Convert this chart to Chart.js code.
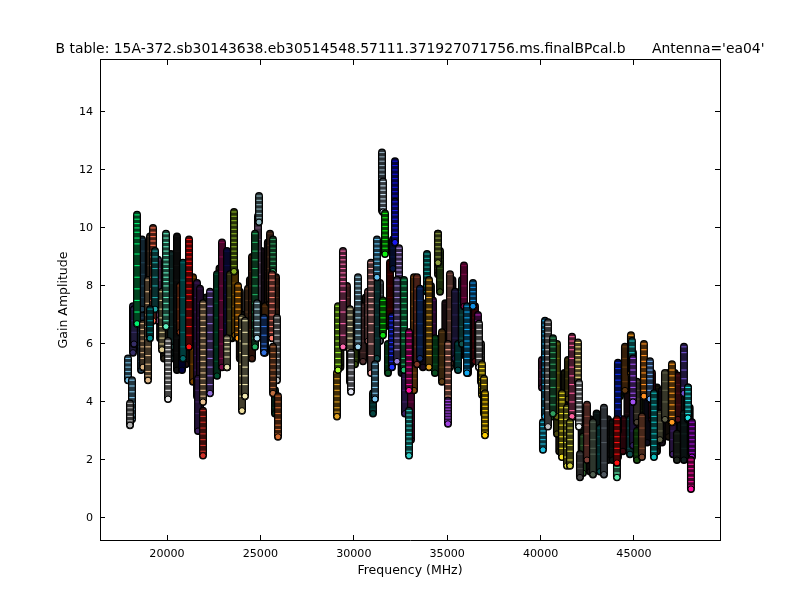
<!DOCTYPE html>
<html>
<head>
<meta charset="utf-8">
<title>B table</title>
<script src="https://cdn.jsdelivr.net/npm/chart.js@4"></script>
<style>
body { margin: 0; background: #fff; }
canvas { display: block; }
</style>
</head>
<body>
<canvas id="gainChart" width="800" height="600"></canvas>
<script>
const chartTitle = "B table: 15A-372.sb30143638.eb30514548.57111.371927071756.ms.finalBPcal.b      Antenna='ea04'";
const xTicks = [20000, 25000, 30000, 35000, 40000, 45000];
const yTicks = [0, 2, 4, 6, 8, 10, 12, 14];

// dark columns that fill the mass behind everything else
const backFreqs = [18500, 18850, 19630, 19840, 20370, 21000, 21500, 22100, 22490, 22810, 23080, 23480, 23900, 24100, 24440, 25050, 25400,
  29280, 29530, 29950, 30360, 30640, 32560, 33700, 34130, 34900, 35280, 35680, 36230,
  40540, 41000, 41280, 41800, 42200, 42650, 43000, 43600, 43850, 44650, 45300, 45700, 46230, 46500, 46850, 47180, 47500, 47980];
const backGains = [
  [8.6,7.6,6.6,5.9], [8.0,7.0,6.0,5.3], [8.6,7.6,6.8,6.2], [7.6,6.9,6.1,5.5], [8.0,7.0,6.2,5.5], [8.4,7.4,6.4,5.3], [7.8,6.8,5.8,4.8], [7.6,6.8,5.8,4.9], [7.7,6.8,5.8,5.0], [8.6,7.6,6.4,5.4], [8.9,7.8,6.6,5.4], [9.0,8.0,7.0,6.2], [7.8,7.0,6.2,5.5], [7.0,6.2,5.2,4.4], [8.2,7.4,6.6,6.0], [9.2,8.2,7.2,6.3], [9.5,8.5,7.5,6.4],
  [6.8,6.0,5.2], [7.6,6.8,5.9], [7.0,6.2,5.4], [7.4,6.6,5.7], [7.6,6.7,5.6], [8.0,7.0,6.0,5.0], [7.4,6.6,5.8,5.2], [8.0,7.2,6.4,5.4], [7.4,6.5,5.6,4.9], [8.2,7.4,6.6,5.6], [7.8,7.0,6.2,5.6], [7.2,6.5,5.8,5.3],
  [6.0,5.2,4.4,3.6], [4.0,3.4,2.8,2.3], [5.0,4.2,3.4,2.5], [5.2,4.6,4.0,3.5], [3.7,3.1,2.5,1.7], [3.4,2.8,2.2,1.6], [3.6,3.0,2.4,1.8], [3.4,2.8,2.2,2.0], [3.3,2.8,2.4,2.0], [5.4,4.5,3.6,2.5], [4.5,3.7,2.9,2.1], [5.0,4.2,3.4,2.6], [4.5,3.7,3.0,2.3], [4.4,3.8,3.2,2.6], [5.0,4.3,3.6,2.8], [5.0,4.3,3.6,2.7], [4.9,4.2,3.4,2.4], [3.8,3.3,2.8,2.3]
];
const backColors = ['#204050', '#604830', '#503040', '#504830', '#203838', '#402020', '#203040', '#304830', '#302040', '#403020', '#182048', '#404818', '#503018', '#383838', '#503020', '#301830', '#402818',
  '#404818', '#502038', '#303030', '#203828', '#483020', '#183040', '#301840', '#204040', '#402030', '#301838', '#183838', '#381820',
  '#183040', '#484018', '#383818', '#201830', '#183020', '#302828', '#183838', '#303030', '#183028', '#401820', '#283818', '#181838', '#383018', '#302038', '#382818', '#281830', '#203030', '#102020'];

// 18-26 GHz
const band1Freqs = [18180, 18233, 18610, 18662, 19090, 19518, 20214, 20535, 20696, 20803, 20856, 21392, 21606, 21767, 21660, 22677, 22944, 23212, 23372, 23640, 24336, 24550, 24871, 25246, 25514, 25835, 25781,
  17912, 18126, 18019, 18394, 18715, 18983, 19251, 19358, 19090, 19732, 19946, 20054, 21178, 21927, 21927, 22302, 23212, 23587, 23801, 24015, 24175, 24711, 24925, 24818, 25193, 25674, 25621, 25888, 25674, 25942];
const band1Gains = [
  [7.3,6.9,6.5,6.1,5.7], [7.2,6.8,6.4,6.0], [8.4,7.9,7.4,6.9,6.4,5.9,5.4,5.1], [9.6,9.2,8.8,8.4,8.0,7.6,7.2], [9.7,9.2,8.7,8.2,7.7,7.2,6.7,6.3], [8.9,8.6,8.2,7.8,7.4,7.0,6.8], [9.1,8.6,8.1,7.6,7.1,6.6,6.1,5.9], [9.7,9.2,8.7,8.2,7.7,7.2,6.7,6.2,5.7,5.1], [8.0,7.6,7.2,6.8,6.4], [6.1,5.8,5.5,5.1], [8.8,8.2,7.6,7.0,6.4,5.9,5.5], [8.3,7.8,7.3,6.8,6.3,5.8,5.3,4.7], [8.1,7.6,7.1,6.6,6.1,5.6,5.1,4.6,4.2], [7.9,7.4,6.9,6.4,5.9,5.4,4.9,4.4,4.0,3.5,3.0], [4.8,4.4,4.0,3.6,3.0],
  [8.4,7.9,7.4,6.9,6.4,5.9,5.4,4.9], [9.5,9.0,8.5,8.0,7.5,7.0,6.5,6.0,5.5,5.2], [9.2,8.7,8.2,7.7,7.2,6.7,6.2,5.7,5.2], [8.4,8.0,7.6,7.2,6.8,6.2], [8.5,8.1,7.7,7.3,6.9,6.3], [7.9,7.5,7.1,6.7,6.3,5.9], [9.0,8.5,8.0,7.5,7.0,6.5,6.0,5.5], [10.4,10.0,9.6,9.2,8.8,8.4,8.0,7.4], [7.3,6.9,6.5,6.1,5.7], [9.8,9.4,9.0,8.6,8.2,7.8,7.4], [8.3,8.0,7.6,7.2,6.9], [4.4,4.1,3.8,3.6],
  [5.5,5.35,5.2,5.05,4.9,4.75], [4.75,4.55,4.35,4.15,3.95,3.75,3.55,3.4], [3.95,3.8,3.65,3.5,3.35,3.2], [10.45,10.3,10.15,10.0,9.85,9.65,9.45,9.1,8.7,8.3,7.9,7.5,7.1,6.7], [6.7,6.5,6.3,6.1,5.9,5.7,5.5,5.2], [8.2,7.8,7.4,7.0,6.6,6.2,5.9,5.6,5.3,5.05,4.9,4.75], [10.0,9.85,9.7,9.55,9.4,9.2,9.0,8.7,8.3,7.9,7.5,7.1,6.8], [9.2,9.0,8.8,8.6,8.3,8.0,7.6,7.2], [7.2,7.0,6.8,6.6,6.4,6.2], [7.8,7.5,7.2,6.9,6.6,6.4,6.2,6.0,5.8], [9.8,9.65,9.5,9.35,9.2,9.05,8.9,8.75,8.6,8.45,8.3,8.15,8.0,7.8,7.6,7.4,7.2,7.0,6.8,6.6], [6.1,5.95,5.8,5.65,5.5,5.35,5.2,5.05,4.9,4.75,4.6,4.4,4.1], [9.6,9.45,9.3,9.15,9.0,8.85,8.7,8.5,8.3,8.1,7.9,7.7,7.5,7.2,6.9,6.6,6.3,5.9],
  [7.4,7.2,7.0,6.8,6.6,6.4,6.2,6.0,5.8,5.6,5.4,5.2,5.0,4.8,4.6,4.4,4.2,4.0], [3.7,3.5,3.3,3.1,2.9,2.7,2.5,2.3,2.15], [7.8,7.6,7.3,7.0,6.7,6.4,6.1,5.8,5.5,5.2,4.9,4.6,4.3], [6.2,6.05,5.9,5.75,5.55,5.2], [10.55,10.4,10.25,10.1,9.95,9.8,9.65,9.5,9.35,9.2,9.05,8.9,8.7,8.5], [8.0,7.8,7.6,7.4,7.2,7.0,6.8,6.6,6.4,6.2], [6.9,6.5,6.1,5.7,5.3,4.9,4.6,4.2,3.7], [6.8,6.4,6.0,5.6,5.2,4.9,4.6,4.2], [9.8,9.5,9.2,8.9,8.6,8.3,8.0,7.7,7.4,7.1,6.8,6.5,6.2,5.9], [11.1,10.95,10.8,10.65,10.5,10.35,10.2], [7.4,7.2,7.0,6.8,6.6,6.4,6.2], [6.9,6.6,6.3,6.0,5.85,5.7], [9.6,9.45,9.3,9.15,9.0,8.85,8.7,8.5], [8.4,8.2,8.0,7.8,7.6,7.4,7.2,7.0,6.8,6.6,6.4,6.2], [6.9,6.7,6.5,6.3,6.1,5.9,5.7,5.5,5.3,5.1,4.9,4.75], [5.9,5.7,5.5,5.3,5.1,4.9,4.7,4.5,4.3], [4.2,4.0,3.8,3.6,3.4,3.2,3.05,2.9,2.8]
];
const band1Colors = ['#6a5acd', '#6a5acd', '#4682b4', '#3f7fa8', '#8a6a50', '#da70d6', '#2f6f6a', '#222222', '#ff6a30', '#000080', '#00d5d5', '#ff8c00', '#7a30b0', '#6a2090', '#7b3fc0',
  '#00a060', '#ff1493', '#1a1a90', '#a0a040', '#ffa500', '#a06a40', '#8a3a20', '#d8a0e0', '#c06a20', '#a06040', '#8a4a30', '#0a5a40',
  '#74bde0', '#80c4e8', '#b8b8b8', '#00f070', '#d8b080', '#e0b888', '#ff7050', '#20a8a8', '#008c8c', '#d8c890', '#60f0c0', '#f0f0f0', '#ff1010', '#e8c090', '#d03028', '#9370db', '#e8e0b0', '#88b020', '#ff9a10', '#f0e0a0', '#f0e8b0', '#20b060', '#90b8c0', '#b0e0f0', '#3070e0', '#30a060', '#ff8070', '#c0c0c0', '#c07040', '#d06a30'];

// 29-37 GHz
const band2Freqs = [29635, 30064, 30492, 30760, 31027, 31402, 31241, 31830, 31937, 32098, 32740, 33061, 33222, 33383, 33543, 34239, 34346, 34507, 34614, 35149, 35417, 35578, 35792, 35899, 36487, 36113, 36808, 34721,
  29100, 29154, 29421, 29796, 29850, 30224, 30920, 31134, 31241, 31509, 31562, 31670, 31562, 32205, 32205, 32044, 32419, 32312, 32687, 32954, 32954, 33918, 34025, 34507, 35042, 35042, 36059, 36380, 36648, 36701, 36862, 36969, 37022];
const band2Gains = [
  [8.0,7.6,7.2,6.8,6.4,6.0], [6.5,6.2,5.9,5.5,5.3], [7.3,6.9,6.5,6.1,5.7,5.4], [7.8,7.4,7.0,6.6,6.1], [4.3,4.1,3.9,3.75,3.6], [8.1,7.7,7.3,6.9,6.5,6.1], [8.2,7.8,7.4,7.0,6.6,6.2,5.5], [6.0,5.6,5.3,5.0], [8.8,8.4,8.0,7.6,7.2,6.8,6.6], [9.6,9.3,9.0,8.6], [5.2,4.8,4.4,4.0,3.6], [6.4,5.5,4.8,4.0,3.3,2.7], [8.3,7.8,7.3,6.8,6.3,5.8,5.3,5.0,4.8,4.4], [8.3,7.9,7.5,7.1,6.7,6.3,5.9,5.3], [7.9,7.5,7.1,6.7,6.3,5.9,5.5], [7.5,7.1,6.7,6.3,5.9], [6.2,5.9,5.6,5.3,5.0], [9.8,9.4,9.0,8.6,8.4], [9.2,8.9,8.6,8.2,7.8], [8.4,8.0,7.6,7.2,6.8,6.4,6.0,5.6,5.2], [7.8,7.4,7.0,6.6,6.2,5.8,5.5], [6.0,5.7,5.4,5.1], [8.2,7.8,7.4,7.0,6.6,6.2,6.0], [8.7,8.4,8.0,7.6,7.3], [7.3,6.9,6.5,6.1,5.8,5.4], [5.4,5.2,5.0], [6.0,5.6,5.3,4.9,4.7], [6.4,6.0,5.6,5.2,4.7],
  [5.0,4.8,4.6,4.4,4.2,4.0,3.8,3.65,3.5], [7.3,7.1,6.9,6.7,6.5,6.3,6.1,5.9,5.7,5.5,5.3,5.1], [9.2,9.05,8.9,8.75,8.6,8.45,8.3,8.15,8.0,7.8,7.5,7.1,6.7,6.3,5.9], [7.2,7.0,6.8,6.6,6.4,6.2,6.0,5.8,5.6,5.4,5.2,5.0,4.7], [5.7,5.5,5.3,5.1,4.9,4.7,4.5,4.35], [8.3,8.15,8.0,7.85,7.7,7.5,7.3,7.1,6.9,6.7,6.5,6.3,6.1,5.9], [8.8,8.6,8.4,8.2,8.0,7.8,7.6,7.4,7.2,7.0,6.7,6.4,6.0,5.6,5.0], [5.3,5.1,4.9,4.7,4.5,4.3,4.1], [9.6,9.45,9.3,9.15,9.0,8.85,8.7,8.5,8.3], [12.6,12.45,12.3,12.15,12.0,11.85,11.7,11.55,11.4,11.25,11.1,10.95,10.8,10.6], [11.6,11.45,11.3,11.15,11.0,10.85,10.7,10.55], [10.5,10.35,10.2,10.05,9.9,9.75,9.6,9.45,9.3,9.1], [7.5,7.3,7.1,6.9,6.7,6.5,6.3], [12.3,12.15,12.0,11.85,11.7,11.55,11.4,11.25,11.1,10.95,10.8,10.7], [10.9,10.75,10.6,10.45,10.3,10.15,10.0,9.85,9.7,9.5], [6.95,6.8,6.65,6.5,6.35,6.2,6.05,5.9,5.75,5.6,5.4,5.2], [9.3,9.15,9.0,8.85,8.7,8.55,8.4,8.2], [8.2,8.0,7.8,7.6,7.4,7.2,7.0,6.8,6.6,6.4,6.2,6.0,5.8,5.4], [8.2,8.0,7.8,7.6,7.4,7.2,7.0,6.8,6.6,6.4,6.2,6.0,5.5,5.3,5.1], [6.4,6.2,6.0,5.8,5.6,5.4,5.2,5.0,4.8,4.6,4.4], [3.7,3.55,3.4,3.25,3.1,2.95,2.8,2.65,2.5,2.3,2.15], [9.1,8.95,8.8,8.65,8.5,8.35,8.2,8.0,7.8], [8.2,8.0,7.8,7.6,7.4,7.2,7.0,6.8,6.6,6.4,6.2,6.0,5.8,5.6,5.2], [9.8,9.65,9.5,9.35,9.2,9.0,8.8], [6.0,5.8,5.6,5.4,5.2,5.0,4.8,4.6,4.4,4.2,4.0], [4.05,3.95,3.85,3.75,3.65,3.55,3.45,3.35,3.25], [7.3,7.1,6.9,6.7,6.5,6.3,6.1,5.9,5.7,5.5,5.3,5.1,5.0], [8.1,7.95,7.8,7.65,7.5,7.3], [7.0,6.8,6.6,6.4,6.2,6.0,5.8,5.6], [6.7,6.5,6.3,6.1,5.9,5.7,5.5,5.2], [5.3,5.15,5.0,4.85,4.7,4.5,4.25], [4.8,4.6,4.4,4.2,4.0,3.8,3.6], [4.3,4.15,4.0,3.85,3.7,3.55,3.4,3.25,3.1,2.95,2.85]
];
const band2Colors = ['#c06060', '#6a9a20', '#a06060', '#ff9fa0', '#0a8a80', '#b0c0d0', '#209090', '#10a040', '#8b0000', '#0a2a8a', '#7b3fd0', '#e01090', '#ff8c20', '#ff7050', '#2060e0', '#8a1fa0', '#10a040', '#8a8a30', '#60a030', '#ffa090', '#5040a0', '#00a0a0', '#20a8a0', '#ff1090', '#b01020', '#606060', '#909090', '#c08030',
  '#e0a020', '#a8ff30', '#ff6ab0', '#e8e0b0', '#e8eaf8', '#a0d8f0', '#ffb0b0', '#7cc8f0', '#60c0f0', '#90a8b8', '#c0d8e8', '#10f010', '#10e010', '#1010e0', '#1818f0', '#2030ff', '#b090e8', '#9880d8', '#20c070', '#ff10a0', '#30d0c8', '#10a8a0', '#e0a020', '#90a040', '#ffa890', '#a040e0', '#10a8f0', '#1090e8', '#b020b0', '#d8d8d8', '#ffe020', '#ffd820', '#ffd000'];

// 40-48 GHz
const band3Freqs = [40074, 40663, 40877, 41466, 41573, 42269, 42483, 42804, 43178, 43392, 44141, 44249, 44516, 44409, 44784, 44944, 45159, 45159, 45426, 45962, 46390, 46658, 47086, 47354, 47300, 47675, 42108, 40877, 47889,
  40127, 40234, 40395, 40663, 41144, 41412, 41680, 41573, 42001, 42054, 44088, 44141, 44088, 44837, 44891, 44944, 45533, 45855, 46069, 47033, 47675, 47889, 48103, 48050];
const band3Gains = [
  [5.45,5.1,4.8,4.5], [4.5,4.1,3.8,3.5], [4.3,4.0,3.7,3.4,2.9], [5.45,5.1,4.8,4.4,4.1], [3.3,3.0,2.7,2.4,2.0], [2.8,2.5,2.2,1.9,1.55], [3.9,3.5,3.2,2.9,2.5,2.0], [3.3,3.0,2.7,2.4,2.2,1.5], [3.1,2.8,2.5,2.2,1.6], [3.8,3.4,3.1,2.6,1.9,1.5], [3.4,3.0,2.6,2.3,2.1], [5.2,4.9,4.6,4.2], [5.9,5.5,5.2,4.7,4.4], [3.4,3.1,2.8,2.3], [3.4,3.1,2.8,2.4,2.2], [5.7,5.3,4.9,4.6,4.0,3.0,2.5], [4.7,4.4,4.1,3.6,3.6,3.3], [3.0,2.8,2.5,2.2,2.0], [3.5,3.1,2.8,2.4,2.1], [5.0,4.6,4.3,3.9,3.4], [3.6,3.3,3.0,2.7], [5.0,4.7,4.4,4.0,3.4], [3.3,3.0,2.7,2.2], [4.9,4.6,4.3,3.9,3.4], [2.9,2.6,2.2,2.0], [3.6,3.2,2.9,2.4,2.0], [2.2,1.9,1.7,1.4], [6.0,5.5,5.0,4.5,4.0,3.5], [4.5,4.0,3.7,3.4],
  [3.3,3.15,3.0,2.85,2.7,2.55,2.35], [6.8,6.65,6.5,6.35,6.2,6.0,5.8,5.6,5.4,5.2,5.0,4.8,4.6,4.4,4.1,3.8,3.5], [6.75,6.6,6.4,6.2,6.0,5.8,5.6,5.4,5.2,5.0,4.8,4.6,4.4,4.0,3.7,3.15], [6.2,6.05,5.9,5.7,5.5,5.3,5.1,4.8,4.5,4.2,3.9,3.6], [4.3,4.15,4.0,3.8,3.6,3.4,3.2,3.0,2.8,2.6,2.4,2.1], [3.8,3.6,3.4,3.2,3.0,2.8,2.6,2.4,2.1,1.8], [6.25,6.1,5.95,5.8,5.5,5.2,4.9,4.6,4.3,4.0,3.7,3.5], [3.3,3.1,2.9,2.7,2.5,2.3,2.0,1.8], [6.05,5.9,5.75,5.6,5.45,5.3,5.15,5.0,4.85,4.65], [4.65,4.5,4.35,4.2,4.05,3.9,3.75,3.6,3.45,3.3,3.15], [2.5,2.35,2.2,2.05,1.9,1.75,1.55,1.4], [5.35,5.15,4.95,4.75,4.55,4.35,4.15,3.95,3.75,3.5,3.3,3.0], [3.4,3.2,3.0,2.8,2.6,2.4,2.2,1.9], [6.3,6.15,6.0,5.85,5.7,5.4,5.0], [6.1,5.9,5.7,5.5,5.3,5.1], [5.5,5.3,5.1,4.9,4.7,4.5,4.3,4.15,4.0], [6.0,5.8,5.6,5.4,5.2,5.0,4.8,4.6,4.4,4.2], [5.4,5.25,5.1,4.95,4.8,4.6,4.4,4.1], [4.3,4.1,3.9,3.7,3.5,3.3,3.1,2.9,2.7,2.5,2.3,2.1], [5.3,5.1,4.9,4.7,4.5,4.3,4.1,3.9,3.7,3.5,3.3], [5.9,5.7,5.4,5.1,4.8,4.5,4.3], [4.5,4.35,4.2,4.05,3.9,3.75,3.6,3.45], [3.3,3.15,3.0,2.85,2.7,2.55,2.4,2.25,2.1], [2.0,1.85,1.7,1.55,1.4,1.25,1.1,1.0]
];
const band3Colors = ['#c04090', '#30b030', '#909020', '#908020', '#808060', '#60c060', '#ff8070', '#a0c0a0', '#10a0a0', '#a0b0c0', '#101080', '#208040', '#c07020', '#801020', '#20a0a0', '#6040c0', '#9a8a70', '#30a020', '#ff9060', '#8a1030', '#c0c090', '#c0c090', '#8040d0', '#a02030', '#405040', '#204040', '#909090', '#d8d020', '#303080',
  '#20c0e0', '#20b0f0', '#c0c0c0', '#30a060', '#f0e020', '#d8d840', '#ff60a0', '#d0d040', '#f8e080', '#f0f4f8', '#60f0b0', '#1030f0', '#ff1010', '#ffa020', '#20c0c0', '#a050f0', '#ff9020', '#70a8f0', '#10c0c0', '#ff9a20', '#7050d0', '#20e0e0', '#a010d0', '#ff10a0'];

function shade(hex, k) {
  const n = parseInt(hex.slice(1), 16);
  return 'rgb(' + Math.round((n >> 16 & 255) * k) + ',' + Math.round((n >> 8 & 255) * k) + ',' + Math.round((n & 255) * k) + ')';
}

// the first dimCount columns sit mostly hidden, so their rims are darkened
function addBand(datasets, freqs, gains, colors, dimCount) {
  freqs.forEach(function (f, i) {
    const pts = gains[i].map(function (g) { return { x: f, y: g }; });
    const last = pts.length - 1;
    const rim = i < dimCount ? shade(colors[i], 0.5) : colors[i];
    // lower order is drawn on top
    datasets.push({ order: -datasets.length, data: pts, showLine: true, borderColor: '#000', borderWidth: 8, borderCapStyle: 'round', pointRadius: 0 });
    datasets.push({
      order: -datasets.length,
      data: pts, showLine: true, borderColor: shade(colors[i], 0.28), borderWidth: 5.5, borderCapStyle: 'round',
      pointStyle: function (c) { return c.dataIndex === last ? 'circle' : 'line'; },
      pointRadius: function (c) { return c.dataIndex === last ? 3 : 2.6; },
      pointBorderWidth: function (c) { return c.dataIndex === last ? 1 : 1.1; },
      pointBorderColor: function (c) { return c.dataIndex === last ? '#000' : rim; },
      pointBackgroundColor: rim
    });
  });
}

const datasets = [];
addBand(datasets, backFreqs, backGains, backColors, backFreqs.length);
addBand(datasets, band1Freqs, band1Gains, band1Colors, 27);
addBand(datasets, band2Freqs, band2Gains, band2Colors, 28);
addBand(datasets, band3Freqs, band3Gains, band3Colors, 29);

const font = { family: '"DejaVu Sans"', size: 11.1 };
const labelFont = { family: '"DejaVu Sans"', size: 12.5 };
const tickMarks = { drawOnChartArea: false, drawTicks: true, tickLength: -5, tickColor: '#000', tickWidth: 1 };
const frame = { display: true, color: '#000', width: 1 };

function fixedTicks(values) {
  return function (scale) { scale.ticks = values.map(function (v) { return { value: v }; }); };
}

new Chart(document.getElementById('gainChart'), {
  type: 'scatter',
  data: { datasets: datasets },
  options: {
    responsive: false,
    animation: false,
    layout: { padding: { left: 20 } },
    plugins: {
      legend: { display: false },
      tooltip: { enabled: false },
      title: {
        display: true, text: chartTitle, color: '#000',
        font: { family: '"DejaVu Sans"', size: 13.9, weight: 'normal' },
        padding: { top: 41, bottom: 2.3 }
      }
    },
    scales: {
      x: {
        type: 'linear', position: 'bottom', min: 16413, max: 49604,
        afterBuildTicks: fixedTicks(xTicks),
        afterFit: function (s) { s.height = 60; },
        grid: tickMarks, border: frame,
        ticks: { color: '#000', font: font, padding: 12, maxRotation: 0, callback: function (v) { return String(v); } },
        title: { display: true, text: 'Frequency (MHz)', color: '#000', font: labelFont, padding: { top: 0, bottom: 22 } }
      },
      y: {
        type: 'linear', position: 'left', min: -0.76, max: 15.79,
        afterBuildTicks: fixedTicks(yTicks),
        afterFit: function (s) { s.width = 80; },
        grid: tickMarks, border: frame,
        ticks: { color: '#000', font: font, padding: 12, callback: function (v) { return String(v); } },
        title: { display: true, text: 'Gain Amplitude', color: '#000', font: labelFont, padding: { top: 36, bottom: 0 } }
      },
      xTop: {
        type: 'linear', position: 'top', min: 16413, max: 49604,
        afterBuildTicks: fixedTicks(xTicks),
        afterFit: function (s) { s.height = 0; },
        grid: tickMarks, border: frame, ticks: { display: false }
      },
      yRight: {
        type: 'linear', position: 'right', min: -0.76, max: 15.79,
        afterBuildTicks: fixedTicks(yTicks),
        afterFit: function (s) { s.width = 80; },
        grid: tickMarks, border: frame, ticks: { display: false }
      }
    }
  }
});
</script>
</body>
</html>
